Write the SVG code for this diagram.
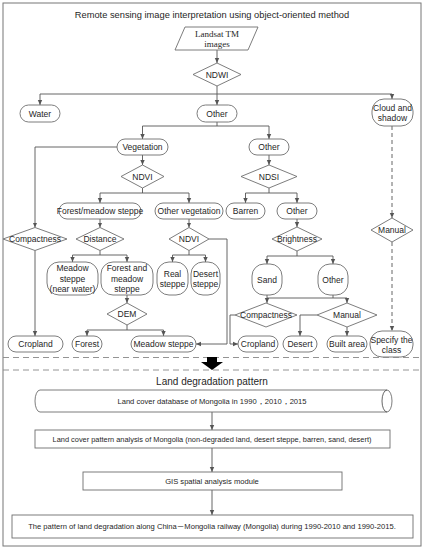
<svg xmlns="http://www.w3.org/2000/svg" width="425" height="550" viewBox="0 0 425 550">
<defs>
<marker id="ah" markerWidth="6" markerHeight="6" refX="5" refY="3" orient="auto" markerUnits="userSpaceOnUse">
<path d="M0,0.8 L5,3 L0,5.2 Z" fill="#555"/>
</marker>
<style>
.b{fill:#fff;stroke:#6e6e6e;stroke-width:0.9}
.t{font-family:"Liberation Sans",Arial,sans-serif;font-size:8.5px;fill:#262626;text-anchor:middle;dominant-baseline:central}
.s{font-family:"Liberation Serif","Times New Roman",serif;font-size:9px;fill:#262626;text-anchor:middle;dominant-baseline:central}
.c{fill:none;stroke:#555;stroke-width:0.9}
.a{marker-end:url(#ah)}
.d{stroke-dasharray:4,3}
.sep{fill:none;stroke:#888;stroke-width:0.9;stroke-dasharray:6,4}
</style>
</defs>
<rect x="3" y="3" width="418" height="543" fill="#fff" stroke="#777" stroke-width="1"/>
<text class="t" x="212" y="15" style="font-size:9.3px">Remote sensing image interpretation using object-oriented method</text>

<g id="connectors">
<path class="c a" d="M217,50 V63"/>
<path class="c" d="M217,86 V94 M40,94 H392"/>
<path class="c a" d="M40,94 V105"/>
<path class="c a" d="M217,94 V105"/>
<path class="c a" d="M392,94 V99"/>
<path class="c" d="M217,122 V126 M142.5,126 H269"/>
<path class="c a" d="M142.5,126 V139"/>
<path class="c a" d="M269,126 V139"/>
<path class="c a" d="M117,147 H35 V227.5"/>
<path class="c a" d="M142.5,155 V165"/>
<path class="c" d="M142.5,188 V193 M100,193 H189"/>
<path class="c a" d="M100,193 V203"/>
<path class="c a" d="M189,193 V203"/>
<path class="c a" d="M269,155 V165"/>
<path class="c" d="M269,188 V193 M245.5,193 H297"/>
<path class="c a" d="M245.5,193 V203"/>
<path class="c a" d="M297,193 V203"/>
<path class="c a" d="M100,219 V227.5"/>
<path class="c a" d="M189,219 V227.5"/>
<path class="c a" d="M297,219 V227"/>
<path class="c a" d="M35,250.5 V336"/>
<path class="c" d="M100,250.5 V255 M72.5,255 H127"/>
<path class="c a" d="M72.5,255 V262"/>
<path class="c a" d="M127,255 V262"/>
<path class="c" d="M189,250.5 V255 M172.5,255 H205.5"/>
<path class="c a" d="M172.5,255 V262"/>
<path class="c a" d="M205.5,255 V262"/>
<path class="c a" d="M209,239 H227 V344 H196"/>
<path class="c" d="M297,251 V256 M267,256 H333"/>
<path class="c a" d="M267,256 V264"/>
<path class="c a" d="M333,256 V264"/>
<path class="c" d="M267,295 V298 M333,295 V298 M267,298 H347"/>
<path class="c a" d="M267,298 V303"/>
<path class="c a" d="M347,298 V303"/>
<path class="c a" d="M127,295 V303"/>
<path class="c" d="M127,325 V330 M87,330 H163.5"/>
<path class="c a" d="M87,330 V336"/>
<path class="c a" d="M163.5,330 V336"/>
<path class="c a" d="M235,315 H230 V344 H238"/>
<path class="c a" d="M317,315 H300 V336"/>
<path class="c a" d="M347,327 V336"/>
<path class="c a d" d="M392,126 V218"/>
<path class="c a d" d="M392,242 V331"/>
<path class="c a" d="M212,412 V430"/>
<path class="c a" d="M212,448 V472"/>
<path class="c a" d="M212,490 V515"/>
</g>

<g id="landsat"><path class="b" d="M185,27 H258 L248,50 H175 Z"/><text class="s" x="217" y="34">Landsat TM</text><text class="s" x="217" y="44">images</text></g>
<g id="ndwi"><path class="b" d="M193,74.5 L217,63 L241,74.5 L217,86 Z"/><text class="t" x="217" y="74.5">NDWI</text></g>
<g id="water"><rect class="b" x="20" y="105" width="40" height="17" rx="8.5"/><text class="t" x="40" y="113.5">Water</text></g>
<g id="other1"><rect class="b" x="197" y="105" width="40" height="17" rx="8.5"/><text class="t" x="217" y="113.5">Other</text></g>
<g id="cloud"><rect class="b" x="372" y="99" width="41" height="27" rx="12"/><text class="t" x="392.5" y="108">Cloud and</text><text class="t" x="392.5" y="118">shadow</text></g>
<g id="vegetation"><rect class="b" x="117" y="139" width="51" height="16" rx="8"/><text class="t" x="142.5" y="147">Vegetation</text></g>
<g id="other2"><rect class="b" x="249" y="139" width="40" height="16" rx="8"/><text class="t" x="269" y="147">Other</text></g>
<g id="ndvi1"><path class="b" d="M121,176.5 L142.5,165 L164,176.5 L142.5,188 Z"/><text class="t" x="142.5" y="176.5">NDVI</text></g>
<g id="ndsi"><path class="b" d="M241,176.5 L269,165 L297,176.5 L269,188 Z"/><text class="t" x="269" y="176.5">NDSI</text></g>
<g id="forestmeadow"><rect class="b" x="59" y="203" width="82" height="16" rx="8"/><text class="t" x="100" y="211">Forest/meadow steppe</text></g>
<g id="othervegetation"><rect class="b" x="155" y="203" width="68" height="16" rx="8"/><text class="t" x="189" y="211">Other vegetation</text></g>
<g id="barren"><rect class="b" x="226" y="203" width="39" height="16" rx="8"/><text class="t" x="245.5" y="211">Barren</text></g>
<g id="other3"><rect class="b" x="277" y="203" width="40" height="16" rx="8"/><text class="t" x="297" y="211">Other</text></g>
<g id="compactness1"><path class="b" d="M3,239 L35,227.5 L67,239 L35,250.5 Z"/><text class="t" x="35" y="239">Compactness</text></g>
<g id="distance"><path class="b" d="M76,239 L100,227.5 L124,239 L100,250.5 Z"/><text class="t" x="100" y="239">Distance</text></g>
<g id="ndvi2"><path class="b" d="M169,239 L189,227.5 L209,239 L189,250.5 Z"/><text class="t" x="189" y="239">NDVI</text></g>
<g id="brightness"><path class="b" d="M272,239 L297,227 L322,239 L297,251 Z"/><text class="t" x="297" y="239">Brightness</text></g>
<g id="manualr"><path class="b" d="M371,230 L392,218 L413,230 L392,242 Z"/><text class="t" x="392" y="230">Manual</text></g>
<g id="meadownear"><rect class="b" x="47" y="262" width="51" height="33" rx="12"/><text class="t" x="72.5" y="268">Meadow</text><text class="t" x="72.5" y="278.5">steppe</text><text class="t" x="72.5" y="289">(near water)</text></g>
<g id="forestandmeadow"><rect class="b" x="101" y="262" width="52" height="33" rx="12"/><text class="t" x="127" y="268">Forest and</text><text class="t" x="127" y="278.5">meadow</text><text class="t" x="127" y="289">steppe</text></g>
<g id="realsteppe"><rect class="b" x="157" y="262" width="31" height="33" rx="12"/><text class="t" x="172.5" y="273.5">Real</text><text class="t" x="172.5" y="284">steppe</text></g>
<g id="desertsteppe"><rect class="b" x="191" y="262" width="29" height="33" rx="12"/><text class="t" x="205.5" y="273.5">Desert</text><text class="t" x="205.5" y="284">steppe</text></g>
<g id="sand"><rect class="b" x="252" y="264" width="30" height="31" rx="12"/><text class="t" x="267" y="279.5">Sand</text></g>
<g id="other4"><rect class="b" x="318" y="264" width="30" height="31" rx="12"/><text class="t" x="333" y="279.5">Other</text></g>
<g id="dem"><path class="b" d="M107,314 L127,303 L147,314 L127,325 Z"/><text class="t" x="127" y="314">DEM</text></g>
<g id="compactness2"><path class="b" d="M235,315 L266,303 L297,315 L266,327 Z"/><text class="t" x="266" y="315">Compactness</text></g>
<g id="manual"><path class="b" d="M317,315 L347,303 L377,315 L347,327 Z"/><text class="t" x="347" y="315">Manual</text></g>
<g id="cropland1"><rect class="b" x="8" y="336" width="55" height="16" rx="8"/><text class="t" x="35.5" y="344">Cropland</text></g>
<g id="forest"><rect class="b" x="72" y="336" width="30" height="16" rx="8"/><text class="t" x="87" y="344">Forest</text></g>
<g id="meadowsteppe"><rect class="b" x="131" y="336" width="65" height="16" rx="8"/><text class="t" x="163.5" y="344">Meadow steppe</text></g>
<g id="cropland2"><rect class="b" x="238" y="336" width="40" height="16" rx="8"/><text class="t" x="258" y="344">Cropland</text></g>
<g id="desert"><rect class="b" x="283" y="336" width="34" height="16" rx="8"/><text class="t" x="300" y="344">Desert</text></g>
<g id="builtarea"><rect class="b" x="327" y="336" width="40" height="16" rx="8"/><text class="t" x="347" y="344">Built area</text></g>
<g id="specify"><rect class="b" x="370" y="331" width="43" height="26" rx="12"/><text class="t" x="391.5" y="339.5">Specify the</text><text class="t" x="391.5" y="349.5">class</text></g>

<path class="sep" d="M3,357.5 H421 M3,370 H421"/>
<path d="M207,357 H217 V362 H223 L212,370 L201,362 H207 Z" fill="#000"/>
<text class="t" x="212" y="381" style="font-size:10px">Land degradation pattern</text>

<g id="database"><path class="b" d="M40,390 H387 A5,11 0 0 1 387,412 H40 A5,11 0 0 1 40,390 Z"/><path class="c" d="M387,390 A5,11 0 0 0 387,412" stroke="#6e6e6e"/><text class="t" x="212" y="401" style="font-size:7.6px">Land cover database of Mongolia in 1990，2010，2015</text></g>
<g id="patternanalysis"><rect class="b" x="35" y="430" width="355" height="18"/><text class="t" x="212" y="439" style="font-size:7.4px">Land cover pattern analysis of Mongolia (non-degraded land, desert steppe, barren, sand, desert)</text></g>
<g id="gis"><rect class="b" x="83" y="472" width="259" height="18"/><text class="t" x="212" y="481" style="font-size:7.6px">GIS spatial analysis module</text></g>
<g id="result"><rect class="b" x="12" y="515" width="401" height="23"/><text class="t" x="212" y="526.5" style="font-size:7.6px;font-family:'Liberation Sans','Noto Sans CJK SC',sans-serif">The pattern of land degradation along China－Mongolia railway (Mongolia) during 1990-2010 and 1990-2015.</text></g>
</svg>
